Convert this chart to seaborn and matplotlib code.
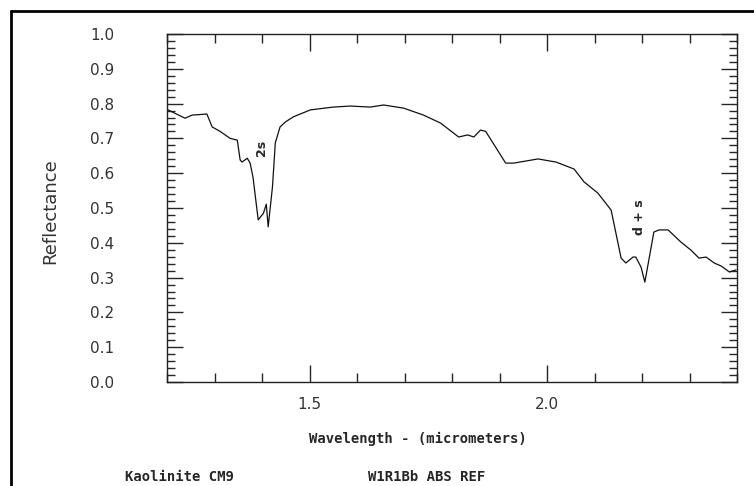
import matplotlib
matplotlib.use('Agg')
import matplotlib.pyplot as plt
import seaborn as sns
import pandas as pd
from matplotlib.ticker import MultipleLocator, FixedLocator
from matplotlib.lines import Line2D

sns.set_style('white')

# Spectrum (micrometers, reflectance)
wavelength = [1.202, 1.238, 1.253, 1.284, 1.295, 1.312, 1.333, 1.348, 1.354, 1.358,
              1.369, 1.375, 1.381, 1.392, 1.403, 1.409, 1.413, 1.422, 1.428, 1.438,
              1.449, 1.466, 1.502, 1.550, 1.586, 1.628, 1.656, 1.698, 1.740, 1.776,
              1.814, 1.833, 1.846, 1.860, 1.871, 1.913, 1.930, 1.981, 2.019, 2.057,
              2.078, 2.107, 2.135, 2.156, 2.166, 2.181, 2.187, 2.198, 2.206, 2.225,
              2.236, 2.255, 2.282, 2.303, 2.320, 2.335, 2.352, 2.367, 2.384, 2.398]
reflectance = [0.782, 0.758, 0.767, 0.770, 0.733, 0.720, 0.700, 0.695, 0.638, 0.632,
               0.643, 0.629, 0.589, 0.466, 0.485, 0.511, 0.446, 0.560, 0.687, 0.733,
               0.747, 0.762, 0.782, 0.790, 0.793, 0.790, 0.796, 0.787, 0.767, 0.744,
               0.704, 0.710, 0.704, 0.724, 0.720, 0.629, 0.629, 0.641, 0.632, 0.612,
               0.575, 0.543, 0.494, 0.356, 0.342, 0.359, 0.359, 0.330, 0.287, 0.431,
               0.437, 0.437, 0.402, 0.379, 0.356, 0.359, 0.342, 0.333, 0.316, 0.322]

band_labels = ['2s', 'd + s']
band_x = [1.400, 2.194]
band_y = [0.672, 0.474]

df = pd.DataFrame({'wl': wavelength, 'refl': reflectance})

fig = plt.figure(figsize=(7.54, 4.86), dpi=100)
ax = fig.add_axes([167/754, 1 - 382/486, 570/754, 348/486])

sns.lineplot(data=df, x='wl', y='refl', ax=ax, color='#111111', linewidth=0.9)

ax.set_xlim(1.2, 2.4)
ax.set_ylim(0.0, 1.0)

ax.xaxis.set_major_locator(FixedLocator([1.5, 2.0]))
ax.xaxis.set_minor_locator(MultipleLocator(0.1))
ax.yaxis.set_major_locator(MultipleLocator(0.1))
ax.yaxis.set_minor_locator(MultipleLocator(0.02))
ax.set_xticklabels(['1.5', '2.0'])
ax.yaxis.set_major_formatter(matplotlib.ticker.FormatStrFormatter('%.1f'))

ax.tick_params(axis='x', which='major', direction='in', length=12, width=1.0,
               top=True, bottom=True, pad=11, labelsize=11, labelcolor='#333333')
ax.tick_params(axis='x', which='minor', direction='in', length=6.5, width=1.0,
               top=True, bottom=True)
ax.tick_params(axis='y', which='major', direction='in', length=11.5, width=1.0,
               left=True, right=True, pad=38, labelsize=11, labelcolor='#333333')
ax.tick_params(axis='y', which='minor', direction='in', length=5.8, width=1.0,
               left=True, right=True)

for s in ax.spines.values():
    s.set_linewidth(1.0)
    s.set_color('#222222')

ax.set_xlabel('Wavelength - (micrometers)', family='DejaVu Sans Mono',
              fontweight='bold', fontsize=10)
ax.xaxis.set_label_coords((418 - 167) / 570, -(439 - 382) / 348)
ax.xaxis.label.set_va('center')
ax.set_ylabel('Reflectance', fontsize=13, color='#333333')
ax.yaxis.set_label_coords(-(167 - 50) / 570, 0.49)
ax.yaxis.label.set_va('center')

for lab, bx, by in zip(band_labels, band_x, band_y):
    ax.text(bx, by, lab, rotation=90, ha='center', va='center',
            fontsize=9, fontweight='bold')

fig.text(125/754, 1 - 477/486, 'Kaolinite CM9', family='DejaVu Sans Mono',
         fontweight='bold', fontsize=10, ha='left', va='center')
fig.text(368/754, 1 - 477/486, 'W1R1Bb ABS REF', family='DejaVu Sans Mono',
         fontweight='bold', fontsize=10, ha='left', va='center')

# partial frame around the page
fig.add_artist(Line2D([11/754, 11/754], [0, 1 - 11/486], transform=fig.transFigure,
                      color='black', linewidth=2))
fig.add_artist(Line2D([11/754, 1], [1 - 11/486, 1 - 11/486], transform=fig.transFigure,
                      color='black', linewidth=2))

fig.savefig('out.png', dpi=100)
